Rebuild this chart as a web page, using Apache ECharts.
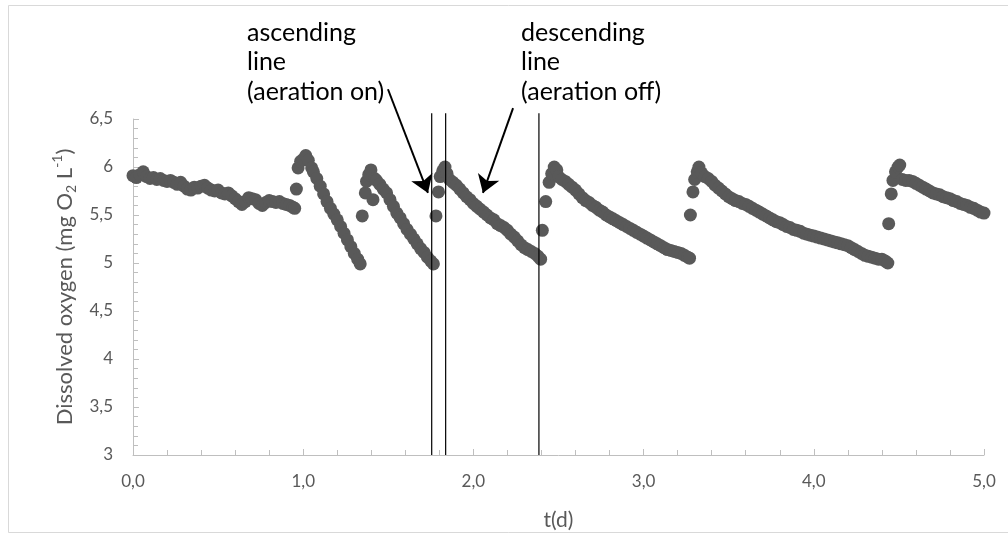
<!DOCTYPE html>
<html>
<head>
<meta charset="utf-8">
<script src="https://cdn.jsdelivr.net/npm/echarts@6/dist/echarts.min.js"></script>
<style>
html,body{margin:0;padding:0;background:#fff;}
#chart{width:1008px;height:536px;}
</style>
</head>
<body>
<div id="chart"></div>
<script>
// ---- data: [t (d), dissolved oxygen (mg O2/L)] per aeration cycle ----
var cycle1 = [[0.00,5.91],[0.02,5.89],[0.04,5.92],[0.06,5.95],[0.08,5.90],[0.10,5.88],[0.12,5.89],[0.14,5.87],[0.16,5.88],[0.18,5.86],[0.20,5.85],[0.22,5.86],[0.24,5.84],[0.26,5.82],[0.28,5.84],[0.30,5.80],[0.32,5.77],[0.34,5.76],[0.36,5.79],[0.38,5.78],[0.40,5.80],[0.42,5.81],[0.44,5.78],[0.46,5.76],[0.48,5.75],[0.50,5.76],[0.52,5.73],[0.54,5.72],[0.56,5.73],[0.58,5.70],[0.60,5.67],[0.62,5.64],[0.64,5.61],[0.66,5.64],[0.68,5.68],[0.70,5.67],[0.72,5.66],[0.74,5.62],[0.76,5.60],[0.78,5.63],[0.80,5.65],[0.82,5.64],[0.84,5.63],[0.86,5.64],[0.88,5.62],[0.90,5.61],[0.92,5.60],[0.94,5.58],[0.95,5.57]];
var cycle2 = [[0.96,5.77],[0.97,5.99],[0.985,6.06],[1.00,6.08],[1.015,6.12],[1.03,6.07],[1.05,5.99],[1.06,5.95],[1.08,5.88],[1.10,5.80],[1.12,5.72],[1.14,5.64],[1.16,5.57],[1.18,5.51],[1.20,5.45],[1.22,5.38],[1.24,5.31],[1.26,5.24],[1.28,5.17],[1.30,5.10],[1.32,5.04],[1.335,4.99]];
var cycle3 = [[1.347,5.49],[1.365,5.73],[1.372,5.85],[1.385,5.92],[1.398,5.97],[1.41,5.66],[1.42,5.88],[1.43,5.86],[1.45,5.82],[1.47,5.77],[1.49,5.73],[1.51,5.66],[1.53,5.59],[1.55,5.52],[1.57,5.47],[1.59,5.41],[1.61,5.35],[1.63,5.30],[1.65,5.25],[1.67,5.20],[1.69,5.15],[1.71,5.11],[1.73,5.06],[1.75,5.02],[1.765,4.99]];
var cycle4 = [[1.78,5.49],[1.795,5.74],[1.805,5.90],[1.82,5.96],[1.833,6.00],[1.845,5.93],[1.86,5.87],[1.88,5.84],[1.90,5.81],[1.92,5.77],[1.94,5.73],[1.96,5.69],[1.98,5.66],[2.00,5.62],[2.02,5.59],[2.04,5.56],[2.06,5.53],[2.08,5.50],[2.10,5.47],[2.12,5.45],[2.14,5.41],[2.16,5.39],[2.18,5.37],[2.20,5.34],[2.22,5.30],[2.24,5.27],[2.26,5.23],[2.28,5.19],[2.30,5.16],[2.32,5.14],[2.34,5.12],[2.36,5.10],[2.38,5.07],[2.395,5.04]];
var cycle5 = [[2.405,5.34],[2.425,5.64],[2.445,5.84],[2.46,5.93],[2.475,6.00],[2.49,5.97],[2.50,5.90],[2.52,5.87],[2.54,5.85],[2.56,5.82],[2.58,5.79],[2.60,5.76],[2.62,5.72],[2.64,5.68],[2.66,5.65],[2.68,5.63],[2.70,5.60],[2.72,5.58],[2.74,5.55],[2.76,5.53],[2.78,5.50],[2.80,5.48],[2.82,5.46],[2.84,5.44],[2.86,5.42],[2.88,5.40],[2.90,5.38],[2.92,5.36],[2.94,5.34],[2.96,5.32],[2.98,5.30],[3.00,5.28],[3.02,5.26],[3.04,5.24],[3.06,5.22],[3.08,5.20],[3.10,5.18],[3.12,5.16],[3.14,5.14],[3.16,5.13],[3.18,5.12],[3.20,5.11],[3.22,5.10],[3.24,5.08],[3.26,5.06],[3.27,5.05]];
var cycle6 = [[3.275,5.50],[3.29,5.74],[3.30,5.87],[3.315,5.95],[3.325,6.00],[3.34,5.94],[3.36,5.90],[3.38,5.88],[3.40,5.85],[3.42,5.81],[3.44,5.78],[3.46,5.75],[3.48,5.72],[3.50,5.69],[3.52,5.67],[3.54,5.65],[3.56,5.64],[3.58,5.62],[3.60,5.61],[3.62,5.59],[3.64,5.57],[3.66,5.55],[3.68,5.53],[3.70,5.51],[3.72,5.49],[3.74,5.47],[3.76,5.45],[3.78,5.43],[3.80,5.42],[3.82,5.40],[3.84,5.38],[3.86,5.37],[3.88,5.35],[3.90,5.34],[3.92,5.33],[3.94,5.31],[3.96,5.30],[3.98,5.29],[4.00,5.28],[4.02,5.27],[4.04,5.26],[4.06,5.25],[4.08,5.24],[4.10,5.23],[4.12,5.22],[4.14,5.21],[4.16,5.20],[4.18,5.19],[4.20,5.18],[4.22,5.16],[4.24,5.14],[4.26,5.12],[4.28,5.10],[4.30,5.08],[4.32,5.07],[4.34,5.06],[4.36,5.05],[4.38,5.04],[4.40,5.04],[4.42,5.02],[4.435,5.00]];
var cycle7 = [[4.44,5.41],[4.455,5.72],[4.465,5.86],[4.48,5.95],[4.495,6.00],[4.505,6.02],[4.52,5.87],[4.54,5.86],[4.56,5.86],[4.58,5.85],[4.60,5.83],[4.62,5.81],[4.64,5.79],[4.66,5.77],[4.68,5.75],[4.70,5.73],[4.72,5.72],[4.74,5.71],[4.76,5.69],[4.78,5.68],[4.80,5.67],[4.82,5.65],[4.84,5.64],[4.86,5.62],[4.88,5.61],[4.90,5.60],[4.92,5.58],[4.94,5.57],[4.96,5.55],[4.98,5.53],[5.00,5.52]];

// vertical reference lines (t in days) and their top value
var refLinesT = [1.755, 1.837, 2.385];
var refLineTop = 6.56;
// annotation arrows: [start, tip] in data coordinates
var arrowAscending = [[1.498, 6.81], [1.733, 5.73]];
var arrowDescending = [[2.233, 6.614], [2.056, 5.73]];
var annotationAscending = 'ascending\nline\n(aeration on)';
var annotationDescending = 'descending\nline\n(aeration off)';

var xTicks = {min: 0, max: 5, interval: 1};
var yTicks = {min: 3, max: 6.5, interval: 0.5};

var allPoints = [].concat(cycle1, cycle2, cycle3, cycle4, cycle5, cycle6, cycle7);

var chart = echarts.init(document.getElementById('chart'), null, {renderer: 'canvas'});
var FONT = 'Lato';
var axisGray = '#bfbfbf';
var labelGray = '#595959';

var series = [{
  type: 'scatter',
  data: allPoints,
  symbol: 'circle',
  symbolSize: 13,
  itemStyle: {color: '#595959', opacity: 1},
  silent: true,
  z: 3
}];

refLinesT.forEach(function (t) {
  series.push({
    type: 'line',
    data: [[t, yTicks.min], [t, refLineTop]],
    showSymbol: false,
    symbol: 'none',
    clip: false,
    lineStyle: {color: '#000', width: 1.2},
    silent: true,
    z: 4
  });
});

series.push({
  type: 'lines',
  coordinateSystem: 'cartesian2d',
  clip: false,
  silent: true,
  symbol: ['none', 'arrow'],
  symbolSize: [13, 17],
  lineStyle: {color: '#000', width: 2, opacity: 1, curveness: 0},
  data: [
    {coords: arrowAscending},
    {coords: arrowDescending}
  ],
  z: 5
});

var option = {
  animation: false,
  backgroundColor: '#fff',
  grid: {left: 133, right: 24, top: 119, bottom: 80, containLabel: false},
  xAxis: {
    type: 'value',
    min: xTicks.min, max: xTicks.max, interval: xTicks.interval,
    name: 't(d)',
    nameLocation: 'middle',
    nameGap: 55,
    nameTextStyle: {fontFamily: FONT, fontSize: 21, color: labelGray},
    axisLine: {show: true, lineStyle: {color: axisGray, width: 1}},
    axisTick: {show: true, inside: true, length: 6, lineStyle: {color: axisGray}},
    minorTick: {show: true, splitNumber: 5, length: 5, lineStyle: {color: axisGray}},
    splitLine: {show: false},
    axisLabel: {
      fontFamily: FONT, fontSize: 17, color: labelGray, margin: 18,
      formatter: function (v) { return v.toFixed(1).replace('.', ','); }
    }
  },
  yAxis: {
    type: 'value',
    min: yTicks.min, max: yTicks.max, interval: yTicks.interval,
    name: '{a|Dissolved oxygen (mg O}{sub|2}{a| L}{sup|-1}{a|)}',
    nameLocation: 'middle',
    nameGap: 48,
    nameTextStyle: {
      fontFamily: FONT, fontSize: 22, color: labelGray,
      rich: {
        a: {fontFamily: FONT, fontSize: 22, color: labelGray, lineHeight: 28},
        sub: {fontFamily: FONT, fontSize: 14, color: labelGray, verticalAlign: 'bottom', lineHeight: 28},
        sup: {fontFamily: FONT, fontSize: 14, color: labelGray, verticalAlign: 'top', lineHeight: 28}
      }
    },
    axisLine: {show: true, lineStyle: {color: axisGray, width: 1}},
    axisTick: {show: true, inside: true, length: 6, lineStyle: {color: axisGray}},
    minorTick: {show: true, splitNumber: 5, length: 5, lineStyle: {color: axisGray}},
    splitLine: {show: false},
    axisLabel: {
      fontFamily: FONT, fontSize: 17, color: labelGray, margin: 20,
      formatter: function (v) { return String(v).replace('.', ','); }
    }
  },
  graphic: [
    {type: 'rect', shape: {x: 8.5, y: 5.5, width: 1010, height: 527}, style: {fill: 'none', stroke: '#d9d9d9', lineWidth: 1}, silent: true, z: -10},
    {type: 'text', left: 247, top: 18, style: {text: annotationAscending, fontFamily: FONT, fontSize: 25, lineHeight: 29.5, fill: '#000'}, silent: true},
    {type: 'text', left: 521, top: 18, style: {text: annotationDescending, fontFamily: FONT, fontSize: 25, lineHeight: 29.5, fill: '#000'}, silent: true}
  ],
  series: series
};
chart.setOption(option);
</script>
</body>
</html>
